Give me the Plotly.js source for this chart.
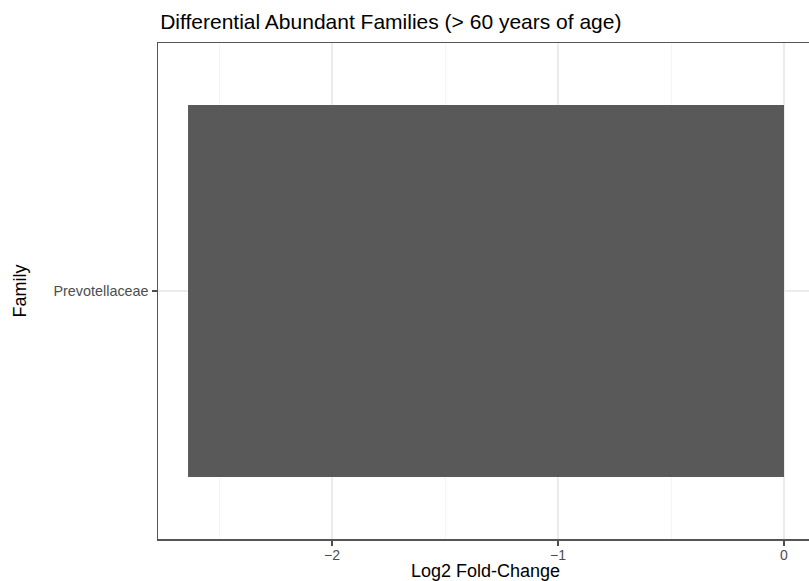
<!DOCTYPE html>
<html>
<head>
<meta charset="utf-8">
<script src="https://cdn.plot.ly/plotly-3.0.1.min.js"></script>
<style>html,body{margin:0;padding:0;background:#fff;}#chart{width:809px;height:581px;}</style>
</head>
<body>
<div id="chart"></div>
<script>
var families = ["Prevotellaceae"];
var log2FoldChange = [-2.637];
var xTickVals = [-2, -1, 0];
var xTickText = ["\u22122", "\u22121", "0"];

var trace = {
  type: "bar",
  orientation: "h",
  y: families,
  x: log2FoldChange,
  width: 0.9,
  marker: {color: "#595959", line: {width: 0}},
  hoverinfo: "x+y"
};

var layout = {
  width: 809,
  height: 581,
  paper_bgcolor: "#ffffff",
  plot_bgcolor: "#ffffff",
  font: {family: "Liberation Sans, Arial, sans-serif", color: "#000"},
  margin: {l: 158, r: 0, t: 43, b: 42, pad: 0},
  showlegend: false,
  title: {
    text: "Differential Abundant Families (> 60 years of age)",
    x: 0.198, xref: "container", xanchor: "left",
    y: 0.9627, yref: "container", yanchor: "middle",
    font: {size: 21, color: "#000"}
  },
  xaxis: {
    range: [-2.7699, 0.1106],
    tickvals: xTickVals,
    ticktext: xTickText,
    ticks: "outside",
    ticklen: 5,
    tickwidth: 1.5,
    tickcolor: "#4d4d4d",
    tickfont: {size: 14, color: "#4d4d4d"},
    ticklabelstandoff: -2,
    showgrid: true,
    gridcolor: "#ebebeb",
    gridwidth: 1.3,
    minor: {dtick: 0.5, tick0: 0, showgrid: true, gridcolor: "#f2f2f2", gridwidth: 0.8, ticks: ""},
    zeroline: false,
    showline: true,
    linecolor: "#555555",
    linewidth: 1.5,
    mirror: true,
    automargin: false
  },
  yaxis: {
    type: "category",
    range: [-0.6, 0.6],
    ticks: "outside",
    ticklen: 5,
    tickwidth: 1.5,
    tickcolor: "#4d4d4d",
    tickfont: {size: 14.4, color: "#4d4d4d"},
    showgrid: true,
    gridcolor: "#ebebeb",
    gridwidth: 1.3,
    zeroline: false,
    showline: true,
    linecolor: "#555555",
    linewidth: 1.5,
    mirror: false,
    automargin: false,
    title: {text: "Family", font: {size: 18, color: "#000"}, standoff: 22}
  },
  annotations: [{
    text: "Log2 Fold-Change",
    xref: "paper", yref: "paper",
    x: 0.5038, xanchor: "center",
    y: -0.0867, yanchor: "bottom",
    showarrow: false,
    font: {size: 18, color: "#000"},
    borderpad: 0
  }]
};

Plotly.newPlot("chart", [trace], layout, {displayModeBar: false, staticPlot: true});
</script>
</body>
</html>
